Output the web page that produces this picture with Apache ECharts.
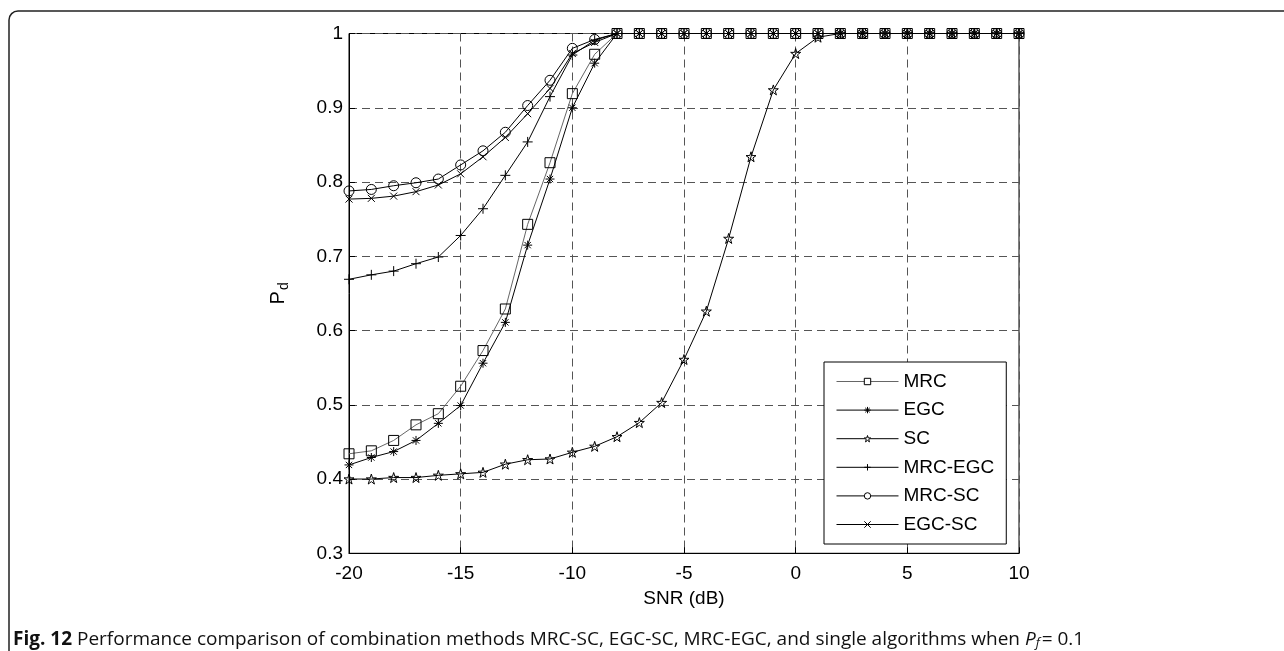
<!DOCTYPE html>
<html>
<head>
<meta charset="utf-8">
<script src="https://cdn.jsdelivr.net/npm/echarts@6/dist/echarts.min.js"></script>
<style>
  html, body { margin: 0; padding: 0; background: #fff; }
  #chart { width: 1284px; height: 651px; }
</style>
</head>
<body>
<div id="chart"></div>
<script>
// SNR (dB) sample points
const snr = [-20, -19, -18, -17, -16, -15, -14, -13, -12, -11, -10, -9, -8, -7, -6, -5,
  -4, -3, -2, -1, 0, 1, 2, 3, 4, 5, 6, 7, 8, 9, 10];

const mrc = [0.434, 0.438, 0.452, 0.473, 0.488, 0.525, 0.573, 0.629, 0.743, 0.826, 0.919, 0.972,
  1, 1, 1, 1, 1, 1, 1, 1, 1, 1, 1, 1, 1, 1, 1, 1, 1, 1, 1];
const egc = [0.419, 0.429, 0.437, 0.452, 0.475, 0.499, 0.556, 0.611, 0.715, 0.804, 0.900, 0.960,
  1, 1, 1, 1, 1, 1, 1, 1, 1, 1, 1, 1, 1, 1, 1, 1, 1, 1, 1];
const sc = [0.400, 0.400, 0.402, 0.402, 0.405, 0.407, 0.409, 0.420, 0.426, 0.427, 0.436, 0.444,
  0.457, 0.476, 0.503, 0.561, 0.626, 0.724, 0.834, 0.924, 0.973, 0.995, 1, 1, 1, 1, 1, 1, 1, 1, 1];
const mrcEgc = [0.669, 0.675, 0.680, 0.690, 0.699, 0.728, 0.764, 0.809, 0.854, 0.915, 0.971, 0.991,
  1, 1, 1, 1, 1, 1, 1, 1, 1, 1, 1, 1, 1, 1, 1, 1, 1, 1, 1];
const mrcSc = [0.788, 0.790, 0.795, 0.799, 0.804, 0.823, 0.842, 0.867, 0.903, 0.937, 0.980, 0.992,
  1, 1, 1, 1, 1, 1, 1, 1, 1, 1, 1, 1, 1, 1, 1, 1, 1, 1, 1];
const egcSc = [0.777, 0.778, 0.781, 0.787, 0.796, 0.811, 0.834, 0.860, 0.892, 0.926, 0.973, 0.988,
  1, 1, 1, 1, 1, 1, 1, 1, 1, 1, 1, 1, 1, 1, 1, 1, 1, 1, 1];

const seriesNames = ["MRC", "EGC", "SC", "MRC-EGC", "MRC-SC", "EGC-SC"];

// matlab-like marker shapes
const STAR = "path://M0,-10L2.245,-3.09L9.51,-3.09L3.633,1.18L5.88,8.09L0,3.82L-5.88,8.09L-3.633,1.18L-9.51,-3.09L-2.245,-3.09Z";
const ASTER = "path://M0,-5V5M-5,0H5M-3.5,-3.5L3.5,3.5M-3.5,3.5L3.5,-3.5";
const PLUS = "path://M0,-5V5M-5,0H5";
const CROSS = "path://M-5,-5L5,5M-5,5L5,-5";

const FONT = "'Liberation Sans', Arial, sans-serif";
const CAP_FONT = "'Open Sans', sans-serif";

function makeSeries(name, values, symbol, size, lineColor) {
  return {
    name: name,
    type: "line",
    data: snr.map((x, i) => [x, values[i]]),
    symbol: symbol,
    symbolSize: size,
    showSymbol: true,
    itemStyle: {
      color: "rgba(0,0,0,0)",
      borderColor: "#000",
      borderWidth: 1
    },
    lineStyle: {
      color: lineColor,
      width: 1
    },
    emphasis: { disabled: true },
    z: 3
  };
}

const chart = echarts.init(document.getElementById("chart"), null, { renderer: "canvas" });

chart.setOption({
  animation: false,
  backgroundColor: "#fff",
  textStyle: { fontFamily: FONT },
  grid: {
    left: 349,
    right: 265,
    top: 33.5,
    bottom: 97.7,
    show: true,
    borderColor: "#000",
    borderWidth: 1,
    backgroundColor: "transparent"
  },
  xAxis: {
    type: "value",
    min: -20,
    max: 10,
    interval: 5,
    name: "SNR (dB)",
    nameLocation: "middle",
    nameGap: 36,
    nameTextStyle: { color: "#000", fontSize: 19, fontFamily: FONT },
    axisLine: { show: true, onZero: false, lineStyle: { color: "#000", width: 1 } },
    axisTick: { show: true, inside: true, length: 6, lineStyle: { color: "#000" } },
    axisLabel: { color: "#000", fontSize: 19, margin: 11, fontFamily: FONT },
    splitLine: { show: true, lineStyle: { color: "#555", width: 1, type: [8, 5] } }
  },
  yAxis: {
    type: "value",
    min: 0.3,
    max: 1,
    interval: 0.1,
    name: "{p|P}{d|d}",
    nameLocation: "middle",
    nameGap: 58,
    nameRotate: 90,
    nameTextStyle: {
      color: "#000",
      rich: {
        p: { fontSize: 20, fontFamily: FONT, color: "#000" },
        d: { fontSize: 14, fontFamily: FONT, color: "#000", verticalAlign: "bottom", padding: [12, 0, 0, 1] }
      }
    },
    axisLine: { show: true, onZero: false, lineStyle: { color: "#000", width: 1 } },
    axisTick: { show: true, inside: true, length: 6, lineStyle: { color: "#000" } },
    axisLabel: {
      color: "#000",
      fontSize: 19,
      margin: 6,
      fontFamily: FONT,
      formatter: v => String(Math.round(v * 10) / 10)
    },
    splitLine: { show: true, lineStyle: { color: "#555", width: 1, type: [8, 5] } }
  },
  legend: {
    data: seriesNames,
    orient: "vertical",
    left: 824,
    top: 362,
    padding: [10, 12, 10, 12],
    itemWidth: 62,
    itemHeight: 8,
    itemGap: 9.6,
    backgroundColor: "#fff",
    borderColor: "#000",
    borderWidth: 1,
    borderRadius: 0,
    itemStyle: { color: "#fff", borderColor: "#000", borderWidth: 1 },
    lineStyle: { width: 1 },
    textStyle: { color: "#000", fontSize: 19, lineHeight: 19, fontFamily: FONT },
    selectedMode: false
  },
  series: [
    makeSeries("MRC", mrc, "rect", 10, "#666"),
    makeSeries("EGC", egc, ASTER, 9, "#000"),
    makeSeries("SC", sc, STAR, 10, "#000"),
    makeSeries("MRC-EGC", mrcEgc, PLUS, 10, "#000"),
    makeSeries("MRC-SC", mrcSc, "circle", 10, "#000"),
    makeSeries("EGC-SC", egcSc, CROSS, 7, "#000")
  ],
  graphic: [
    {
      type: "rect",
      silent: true,
      shape: { x: 9, y: 11, width: 1400, height: 800, r: [9, 0, 0, 0] },
      style: { fill: "none", stroke: "#222", lineWidth: 1.5 }
    },
    {
      type: "text",
      left: 13,
      top: 630,
      silent: true,
      style: {
        text: "{b|Fig. 12} Performance comparison of combination methods MRC-SC, EGC-SC, MRC-EGC, and single algorithms when {i|P}{s|f}{n|= 0.1}",
        font: "19px " + CAP_FONT,
        fill: "#111",
        rich: {
          b: { fontWeight: "bold", fontSize: 19, fontFamily: CAP_FONT, fill: "#111" },
          i: { fontStyle: "italic", fontSize: 19, fontFamily: CAP_FONT, fill: "#111" },
          s: { fontStyle: "italic", fontSize: 13, fontFamily: CAP_FONT, verticalAlign: "bottom", padding: [7, 2, 0, 0], fill: "#111" },
          n: { fontSize: 19, fontFamily: CAP_FONT, fill: "#111" }
        }
      }
    }
  ]
});
</script>
</body>
</html>
